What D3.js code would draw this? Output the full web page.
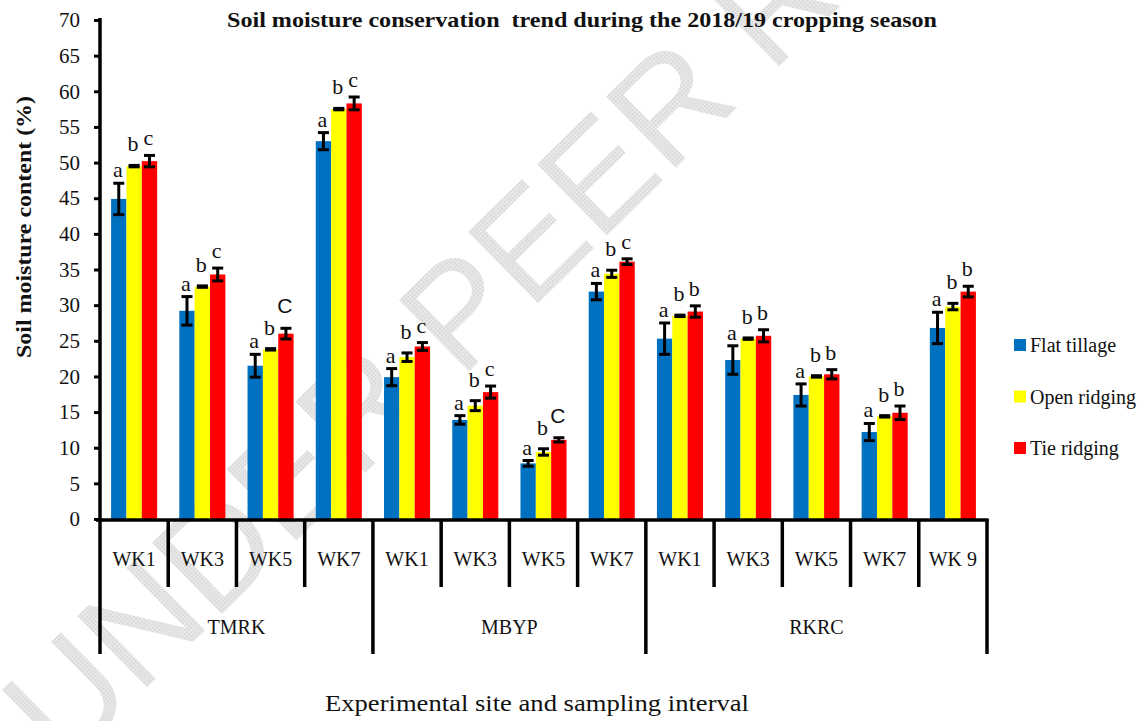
<!DOCTYPE html>
<html>
<head>
<meta charset="utf-8">
<script src="https://cdnjs.cloudflare.com/ajax/libs/d3/7.8.5/d3.min.js"></script>
<style>
  body { margin: 0; background: #fff; }
  svg { display: block; font-family: "Liberation Serif", "Times New Roman", serif; }
</style>
</head>
<body>
<div id="chart-area"></div>
<script>
// categories
var sites = ["TMRK", "MBYP", "RKRC"];
var siteWeeks = [4, 4, 5];
var weeks = ["WK1", "WK3", "WK5", "WK7", "WK1", "WK3", "WK5", "WK7", "WK1", "WK3", "WK5", "WK7", "WK 9"];
var seriesNames = ["Flat tillage", "Open ridging", "Tie ridging"];
var seriesColors = ["#0070C0", "#FFFF00", "#FF0000"];
var yTicks = [0, 5, 10, 15, 20, 25, 30, 35, 40, 45, 50, 55, 60, 65, 70];

// series values (%) and error half-widths
var flat     = [44.9, 29.2, 21.5, 53.0, 19.9, 13.9, 7.8, 31.9, 25.3, 22.3, 17.4, 12.2, 26.8];
var flatErr  = [2.2, 2.0, 1.6, 1.2, 1.2, 0.6, 0.4, 1.15, 2.2, 2.0, 1.55, 1.2, 2.2];
var open     = [49.5, 32.6, 23.8, 57.5, 22.7, 15.9, 9.4, 34.4, 28.5, 25.3, 20.0, 14.4, 29.8];
var openErr  = [0.1, 0.1, 0.1, 0.1, 0.6, 0.7, 0.45, 0.5, 0.1, 0.1, 0.1, 0.1, 0.45];
var tie      = [50.2, 34.3, 26.0, 58.3, 24.2, 17.8, 11.1, 36.1, 29.1, 25.7, 20.3, 14.9, 31.9];
var tieErr   = [0.8, 0.9, 0.75, 0.9, 0.55, 0.85, 0.3, 0.4, 0.8, 0.85, 0.65, 0.95, 0.75];

// significance letters
var flatLetters = ["a", "a", "a", "a", "a", "a", "a", "a", "a", "a", "a", "a", "a"];
var openLetters = ["b", "b", "b", "b", "b", "b", "b", "b", "b", "b", "b", "b", "b"];
var tieLetters  = ["c", "c", "C", "c", "c", "c", "C", "c", "b", "b", "b", "b", "b"];

var width = 1145, height = 721;
var plotLeft = 100, plotRight = 987, plotTop = 20, plotBottom = 519;

var svg = d3.select("#chart-area").append("svg")
	.attr("width", width)
	.attr("height", height);

// hatched grey for the watermark
var pat = svg.append("defs").append("pattern")
	.attr("id", "hatch")
	.attr("patternUnits", "userSpaceOnUse")
	.attr("width", 3).attr("height", 3);
pat.append("rect").attr("width", 3).attr("height", 3).style("fill", "#e4e4e4");
pat.append("rect").attr("width", 1).attr("height", 1).style("fill", "#c8c8c8");
pat.append("rect").attr("x", 1.5).attr("y", 1.5).attr("width", 1).attr("height", 1).style("fill", "#f6f6f6");

// watermark behind everything
svg.append("text")
	.attr("transform", "translate(64,769) rotate(-44.5)")
	.style("font-family", "'Liberation Sans', Arial, sans-serif")
	.style("font-size", "145px")
	.style("fill", "url(#hatch)")
	.text("UNDER PEER REVIEW");

var cats = d3.range(weeks.length);

var x0 = d3.scaleBand()
	.domain(cats)
	.range([plotLeft, plotRight])
	.paddingInner(0.325)
	.paddingOuter(0.1625);

var x1 = d3.scaleBand()
	.domain([0, 1, 2])
	.range([0, x0.bandwidth()]);

var y = d3.scaleLinear()
	.domain([0, 70])
	.range([plotBottom, plotTop]);

var step = x0.step();

var rows = [];
var vals = [flat, open, tie], errs = [flatErr, openErr, tieErr], lets = [flatLetters, openLetters, tieLetters];
cats.forEach(function(c){
	for (var s = 0; s < 3; s++) {
		rows.push({ cat: c, s: s, v: vals[s][c], e: errs[s][c], l: lets[s][c] });
	}
});

// bars
svg.selectAll("rect.bar")
	.data(rows)
	.enter()
	.append("rect")
		.attr("class", "bar")
		.attr("x", function(d){ return x0(d.cat) + x1(d.s); })
		.attr("y", function(d){ return y(d.v); })
		.attr("width", x1.bandwidth())
		.attr("height", function(d){ return y(0) - y(d.v); })
		.style("fill", function(d){ return seriesColors[d.s]; });

// error bars
var eb = svg.selectAll("g.err")
	.data(rows)
	.enter()
	.append("g")
		.attr("class", "err")
		.attr("transform", function(d){ return "translate(" + (x0(d.cat) + x1(d.s) + x1.bandwidth() / 2) + ",0)"; })
		.style("stroke", "#000")
		.style("stroke-width", 3);

eb.append("line")
	.attr("x1", 0).attr("x2", 0)
	.attr("y1", function(d){ return y(d.v + d.e); })
	.attr("y2", function(d){ return y(d.v - d.e); });
eb.append("line")
	.attr("x1", -5.5).attr("x2", 5.5)
	.attr("y1", function(d){ return y(d.v + d.e); })
	.attr("y2", function(d){ return y(d.v + d.e); });
eb.append("line")
	.attr("x1", -5.5).attr("x2", 5.5)
	.attr("y1", function(d){ return y(d.v - d.e); })
	.attr("y2", function(d){ return y(d.v - d.e); });

// letters above bars
var letterGap = [6, 14, 10];
svg.selectAll("text.sig")
	.data(rows)
	.enter()
	.append("text")
		.attr("class", "sig")
		.attr("x", function(d){ return x0(d.cat) + x1(d.s) + x1.bandwidth() / 2 - 1; })
		.attr("y", function(d){ return y(d.v + d.e) - letterGap[d.s] - (d.l == "C" ? 5 : 0); })
		.attr("text-anchor", "middle")
		.style("font-size", function(d){ return d.l == "C" ? "21px" : "22px"; })
		.style("font-family", function(d){ return d.l == "C" ? "'Liberation Sans', Arial, sans-serif" : null; })
		.style("fill", "#111")
		.text(function(d){ return d.l; });

// y axis
var yAxis = d3.axisLeft(y)
	.tickValues(yTicks)
	.tickSize(6)
	.tickPadding(14);

var gy = svg.append("g")
	.attr("transform", "translate(" + plotLeft + ",0)")
	.call(yAxis);
gy.select(".domain").remove();
gy.selectAll(".tick line").style("stroke", "#000").style("stroke-width", 3);
gy.selectAll(".tick text")
	.style("font-size", "21px")
	.style("font-family", "'Liberation Serif', 'Times New Roman', serif")
	.style("fill", "#111");

svg.append("line")
	.attr("x1", plotLeft).attr("x2", plotLeft)
	.attr("y1", plotTop - 2).attr("y2", plotBottom + 2)
	.style("stroke", "#000").style("stroke-width", 3.5);

// category axis with two levels
svg.append("line")
	.attr("x1", plotLeft - 4).attr("x2", plotRight + 1.5)
	.attr("y1", plotBottom + 1).attr("y2", plotBottom + 1)
	.style("stroke", "#000").style("stroke-width", 3.5);

var siteStarts = [0];
siteWeeks.forEach(function(n, i){ siteStarts.push(siteStarts[i] + n); });

var bounds = d3.range(weeks.length + 1);
svg.selectAll("line.sep")
	.data(bounds)
	.enter()
	.append("line")
		.attr("class", "sep")
		.attr("x1", function(i){ return plotLeft + i * step; })
		.attr("x2", function(i){ return plotLeft + i * step; })
		.attr("y1", plotBottom)
		.attr("y2", function(i){ return siteStarts.indexOf(i) >= 0 ? 654 : 587; })
		.style("stroke", "#000")
		.style("stroke-width", 3.5);

svg.selectAll("text.wk")
	.data(cats)
	.enter()
	.append("text")
		.attr("class", "wk")
		.attr("x", function(c){ return x0(c) + x0.bandwidth() / 2; })
		.attr("y", 566)
		.attr("text-anchor", "middle")
		.style("font-size", "20px")
		.style("fill", "#111")
		.text(function(c){ return weeks[c]; });

svg.selectAll("text.site")
	.data(sites)
	.enter()
	.append("text")
		.attr("class", "site")
		.attr("x", function(s, i){ return plotLeft + (siteStarts[i] + siteWeeks[i] / 2) * step; })
		.attr("y", 634)
		.attr("text-anchor", "middle")
		.style("font-size", "20px")
		.style("fill", "#111")
		.text(function(s){ return s; });

// titles
svg.append("text")
	.attr("x", 582)
	.attr("y", 27)
	.attr("text-anchor", "middle")
	.attr("textLength", 710)
	.attr("lengthAdjust", "spacingAndGlyphs")
	.style("font-size", "22px")
	.style("font-weight", "bold")
	.style("fill", "#111")
	.text("Soil moisture conservation\u00a0 trend during the 2018/19 cropping season");

svg.append("text")
	.attr("transform", "translate(31,227) rotate(-90)")
	.attr("text-anchor", "middle")
	.attr("textLength", 262)
	.attr("lengthAdjust", "spacingAndGlyphs")
	.style("font-size", "21px")
	.style("font-weight", "bold")
	.style("fill", "#111")
	.text("Soil moisture content (%)");

svg.append("text")
	.attr("x", 537)
	.attr("y", 711)
	.attr("text-anchor", "middle")
	.attr("textLength", 424)
	.attr("lengthAdjust", "spacingAndGlyphs")
	.style("font-size", "23px")
	.style("fill", "#111")
	.text("Experimental site and sampling interval");

// legend
var legend = svg.selectAll("g.legend")
	.data(seriesNames)
	.enter()
	.append("g")
		.attr("class", "legend")
		.attr("transform", function(d, i){ return "translate(1014," + (345 + i * 51.5) + ")"; });

legend.append("rect")
	.attr("x", 0).attr("y", -6)
	.attr("width", 12).attr("height", 12)
	.style("fill", function(d, i){ return seriesColors[i]; });

legend.append("text")
	.attr("x", 16)
	.attr("y", 7)
	.style("font-size", "20px")
	.style("fill", "#111")
	.text(function(d){ return d; });
</script>
</body>
</html>
